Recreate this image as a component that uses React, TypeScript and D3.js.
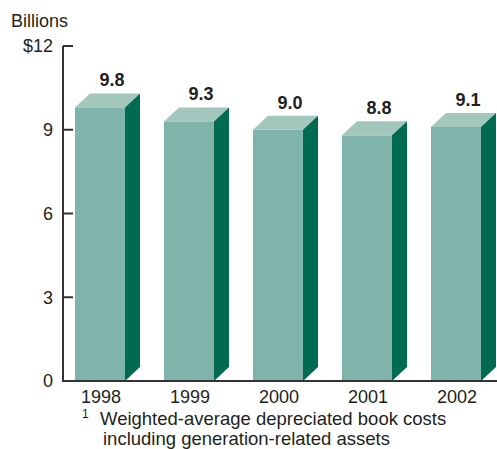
import React from "react";
import * as d3 from "d3";

const years = ["1998", "1999", "2000", "2001", "2002"];
const values = [9.8, 9.3, 9.0, 8.8, 9.1];
const valueLabels = ["9.8", "9.3", "9.0", "8.8", "9.1"];
const yTicks = [0, 3, 6, 9, 12];
const yTickLabels = ["0", "3", "6", "9", "$12"];

const W = 497;
const H = 449;
const axisX = 63;
const depthX = 15;
const depthY = 14;
const font = "Liberation Sans, Arial, Helvetica, sans-serif";

const FRONT = "#80b3aa";
const TOP = "#a3c6bd";
const SIDE = "#006b50";
const INK = "#231f20";

export default function App() {
  const y = d3.scaleLinear().domain([0, 12]).range([381, 46]);
  const x = d3
    .scaleBand<string>()
    .domain(years)
    .range([55.5, 500.5])
    .paddingInner(0.438)
    .paddingOuter(0.219);
  const bw = x.bandwidth();
  const y0 = y(0);

  return (
    <svg
      width={W}
      height={H}
      style={{ position: "absolute", left: 0, top: 0, display: "block" }}
      fontFamily={font}
    >
      <rect width={W} height={H} fill="#fff" />
      <text x={11} y={27} fontSize={18} fill={INK}>
        Billions
      </text>

      {years.map((yr, i) => {
        const x0 = x(yr)!;
        const x1 = x0 + bw;
        const yt = y(values[i]);
        const side = `M${x1},${yt} L${x1 + depthX},${yt - depthY} L${x1 + depthX},${y0 - depthY} L${x1},${y0} Z`;
        const top = `M${x0},${yt} L${x0 + depthX},${yt - depthY} L${x1 + depthX},${yt - depthY} L${x1},${yt} Z`;
        return (
          <g key={yr}>
            <rect x={x0} y={yt} width={bw} height={y0 - yt} fill={FRONT} />
            <path d={top} fill={TOP} />
            <path d={side} fill={SIDE} />
            <text
              x={x0 + bw / 2 + 12}
              y={yt - depthY - 7}
              textAnchor="middle"
              fontSize={18}
              fontWeight="bold"
              fill={INK}
            >
              {valueLabels[i]}
            </text>
            <text
              x={x0 + bw / 2 + 1}
              y={403}
              textAnchor="middle"
              fontSize={18}
              fill={INK}
            >
              {yr}
            </text>
          </g>
        );
      })}

      {/* value axis */}
      <line x1={axisX} x2={axisX} y1={y(12)} y2={y0} stroke="#333" strokeWidth={2} />
      {yTicks.map((t, i) => (
        <g key={t}>
          {t !== 0 && (
            <line x1={axisX} x2={axisX + 10} y1={y(t)} y2={y(t)} stroke="#333" strokeWidth={2} />
          )}
          <text
            x={53}
            y={y(t)}
            dy="0.36em"
            textAnchor="end"
            fontSize={18}
            fill={INK}
          >
            {yTickLabels[i]}
          </text>
        </g>
      ))}
      <line x1={axisX - 1} x2={W} y1={y0} y2={y0} stroke="#333" strokeWidth={2} />

      {/* footnote */}
      <text x={82} y={418} fontSize={12} fill={INK}>
        1
      </text>
      <text x={100} y={425} fontSize={18.5} fill={INK}>
        Weighted-average depreciated book costs
      </text>
      <text x={103} y={445} fontSize={18.5} fill={INK}>
        including generation-related assets
      </text>
    </svg>
  );
}
